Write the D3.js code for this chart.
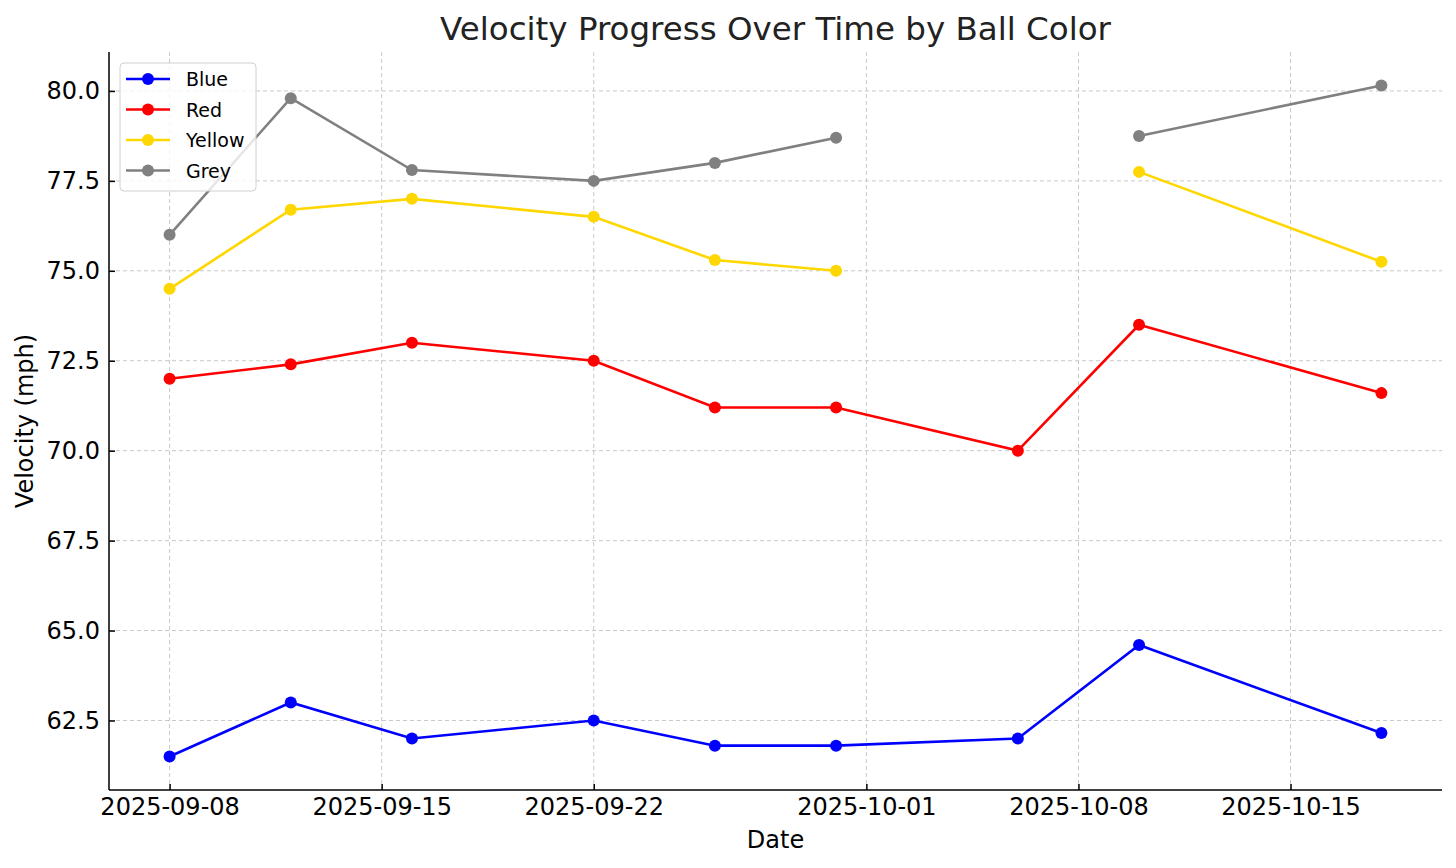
<!DOCTYPE html>
<html>
<head>
<meta charset="utf-8">
<script src="https://cdn.jsdelivr.net/npm/d3@7"></script>
<style>
  body { margin: 0; background: #fff; }
  svg { font-family: "DejaVu Sans", sans-serif; }
</style>
</head>
<body>
<svg width="1456" height="868"></svg>
<script>
// data
var dates = ["2025-09-08", "2025-09-12", "2025-09-16", "2025-09-22", "2025-09-26",
             "2025-09-30", "2025-10-06", "2025-10-10", "2025-10-18"];
var blue   = [61.5, 63.0, 62.0, 62.5, 61.8, 61.8, 62.0, 64.6, 62.15];
var red    = [72.0, 72.4, 73.0, 72.5, 71.2, 71.2, 70.0, 73.5, 71.6];
var yellow = [74.5, 76.7, 77.0, 76.5, 75.3, 75.0, null, 77.75, 75.25];
var grey   = [76.0, 79.8, 77.8, 77.5, 78.0, 78.7, null, 78.75, 80.15];
var seriesNames = ["Blue", "Red", "Yellow", "Grey"];
var seriesColors = ["#0000ff", "#ff0000", "#ffd700", "#808080"];
var xTickLabels = ["2025-09-08", "2025-09-15", "2025-09-22", "2025-10-01", "2025-10-08", "2025-10-15"];
var yTicks = [62.5, 65.0, 67.5, 70.0, 72.5, 75.0, 77.5, 80.0];

var parse = d3.utcParse("%Y-%m-%d");
var svg = d3.select("svg");
var mLeft = 109, mRight = 1442, mTop = 52, mBottom = 790;

var allVals = blue.concat(red, yellow, grey).filter(function(v) { return v != null; });
var x0 = parse(dates[0]), x1 = parse(dates[dates.length - 1]);
var xPad = (x1 - x0) * 0.05;
var x = d3.scaleUtc()
    .domain([new Date(+x0 - xPad), new Date(+x1 + xPad)])
    .range([mLeft, mRight]);
var yMin = d3.min(allVals), yMax = d3.max(allVals);
var yPad = (yMax - yMin) * 0.05;
var y = d3.scaleLinear()
    .domain([yMin - yPad, yMax + yPad])
    .range([mBottom, mTop]);

// grid
var grid = svg.append("g").attr("stroke", "#c8c8c8").attr("stroke-width", 1)
    .attr("stroke-dasharray", "4,3");
xTickLabels.forEach(function(t) {
    var px = x(parse(t));
    grid.append("line").attr("x1", px).attr("x2", px).attr("y1", mTop).attr("y2", mBottom);
});
yTicks.forEach(function(t) {
    grid.append("line").attr("x1", mLeft).attr("x2", mRight).attr("y1", y(t)).attr("y2", y(t));
});

// axes (ticks point inward)
var xAxis = svg.append("g")
    .attr("transform", "translate(0," + mBottom + ")")
    .call(d3.axisBottom(x).tickValues(xTickLabels.map(parse))
        .tickFormat(d3.utcFormat("%Y-%m-%d")).tickSize(-6).tickPadding(8).tickSizeOuter(0));
var yAxis = svg.append("g")
    .attr("transform", "translate(" + mLeft + ",0)")
    .call(d3.axisLeft(y).tickValues(yTicks).tickFormat(d3.format(".1f"))
        .tickSize(-6).tickPadding(9).tickSizeOuter(0));
[xAxis, yAxis].forEach(function(a) {
    a.selectAll("text").attr("font-size", 24).attr("fill", "#000")
        .attr("font-family", "DejaVu Sans");
    a.selectAll("line").attr("stroke", "#000").attr("stroke-width", 1.5);
    a.select(".domain").attr("stroke", "#000").attr("stroke-width", 1.5);
});
xAxis.select(".domain").attr("d", "M" + mLeft + ",0H" + mRight);
yAxis.select(".domain").attr("d", "M0," + mBottom + "V" + mTop);

// lines
var allSeries = [blue, red, yellow, grey];
var line = d3.line()
    .defined(function(d) { return d.v != null; })
    .x(function(d) { return x(d.date); })
    .y(function(d) { return y(d.v); });

allSeries.forEach(function(vals, i) {
    var pts = vals.map(function(v, j) { return { date: parse(dates[j]), v: v }; });
    svg.append("path").datum(pts)
        .attr("fill", "none")
        .attr("stroke", seriesColors[i])
        .attr("stroke-width", 2.6)
        .attr("d", line);
    svg.append("g").selectAll("circle")
        .data(pts.filter(function(d) { return d.v != null; }))
        .enter().append("circle")
        .attr("cx", function(d) { return x(d.date); })
        .attr("cy", function(d) { return y(d.v); })
        .attr("r", 6)
        .attr("fill", seriesColors[i]);
});

// title and labels
svg.append("text").attr("x", (mLeft + mRight) / 2).attr("y", 40)
    .attr("text-anchor", "middle").attr("font-size", 32.5).attr("fill", "#222")
    .text("Velocity Progress Over Time by Ball Color");
svg.append("text").attr("x", (mLeft + mRight) / 2).attr("y", 848)
    .attr("text-anchor", "middle").attr("font-size", 24).attr("fill", "#000")
    .text("Date");
svg.append("text").attr("transform", "translate(33," + (mTop + mBottom) / 2 + ") rotate(-90)")
    .attr("text-anchor", "middle").attr("font-size", 24).attr("fill", "#000")
    .text("Velocity (mph)");

// legend
var lg = svg.append("g").attr("transform", "translate(120,63)");
lg.append("rect").attr("width", 136).attr("height", 128).attr("rx", 4)
    .attr("fill", "#fff").attr("fill-opacity", 0.8)
    .attr("stroke", "#d0d0d0").attr("stroke-width", 1);
seriesNames.forEach(function(name, i) {
    var ry = 16 + i * 30.5;
    lg.append("line").attr("x1", 6).attr("x2", 50).attr("y1", ry).attr("y2", ry)
        .attr("stroke", seriesColors[i]).attr("stroke-width", 2.6);
    lg.append("circle").attr("cx", 28).attr("cy", ry).attr("r", 6).attr("fill", seriesColors[i]);
    lg.append("text").attr("x", 66).attr("y", ry + 7).attr("font-size", 19)
        .attr("fill", "#000").text(name);
});
</script>
</body>
</html>
